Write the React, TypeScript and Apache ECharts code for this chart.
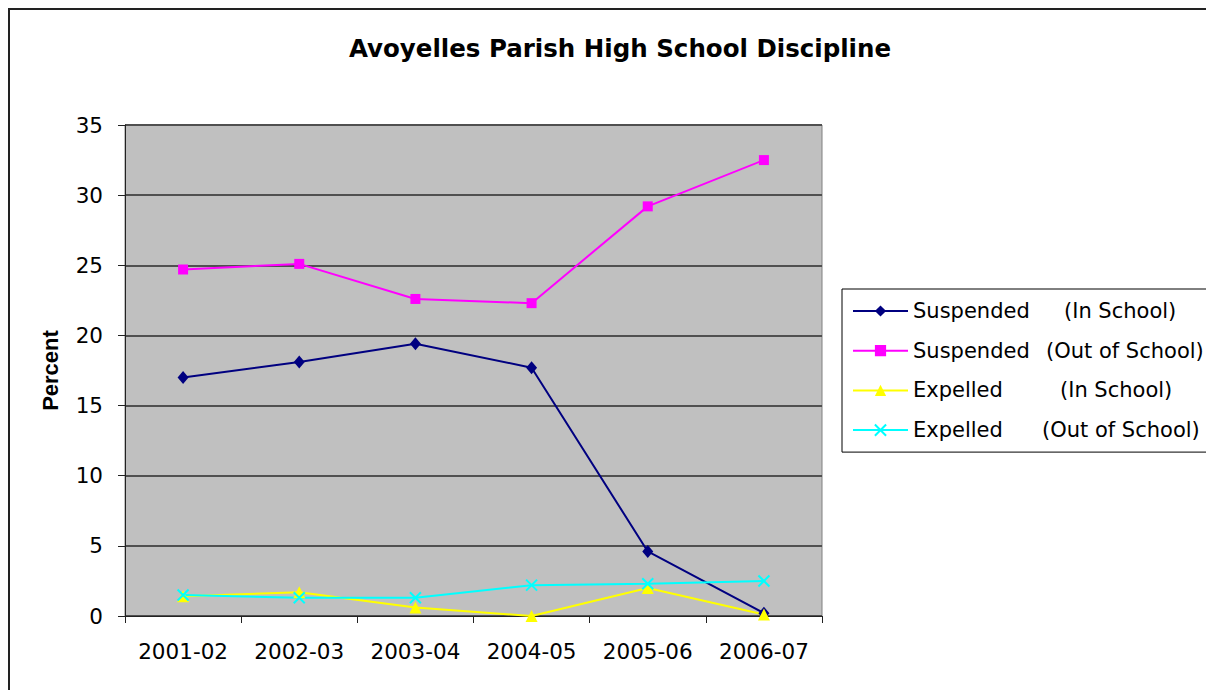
import React, { useEffect, useRef } from "react";
import * as echarts from "echarts";

const titleText = "Avoyelles Parish High School Discipline";
const yAxisName = "Percent";
const categories = ["2001-02", "2002-03", "2003-04", "2004-05", "2005-06", "2006-07"];
const yTicks = { min: 0, max: 35, interval: 5 };

const suspendedIn = [17.0, 18.1, 19.4, 17.7, 4.6, 0.2];
const suspendedOut = [24.7, 25.1, 22.6, 22.3, 29.2, 32.5];
const expelledIn = [1.4, 1.7, 0.6, 0.0, 2.0, 0.1];
const expelledOut = [1.5, 1.3, 1.3, 2.2, 2.3, 2.5];

const seriesNames = [
  ["Suspended", "(In School)"],
  ["Suspended", "(Out of School)"],
  ["Expelled", "(In School)"],
  ["Expelled", "(Out of School)"],
];

// visual styles
const legendFirstWidths = [151, 133, 147, 129];
const colors = ["#000080", "#FF00FF", "#FFFF00", "#00FFFF"];
const FONT = "DejaVu Sans";

export default function App() {
  const ref = useRef<HTMLDivElement>(null);
  useEffect(() => {
    if (!ref.current) return;
    const chart = echarts.init(ref.current, undefined, { renderer: "svg" });
    const datas = [suspendedIn, suspendedOut, expelledIn, expelledOut];
    const symbols = ["diamond", "rect", "triangle", "path://M0,0L10,10M10,0L0,10"];
    const symbolSizes: any[] = [[11, 13], 10, 12, 11];
    const fullNames = seriesNames.map((p) => p.join(" "));
    const nameToIdx: Record<string, number> = {};
    fullNames.forEach((n, i) => (nameToIdx[n] = i));
    const rich: any = {};
    legendFirstWidths.forEach((w, i) => {
      rich["a" + i] = { width: w, fontSize: 21, fontFamily: FONT, color: "#000" };
    });
    rich.b = { fontSize: 21, fontFamily: FONT, color: "#000" };

    chart.setOption({
      animation: false,
      backgroundColor: "#fff",
      title: {
        text: titleText,
        left: 605,
        top: 21,
        textAlign: "center",
        textStyle: { fontFamily: FONT, fontWeight: "bold", fontSize: 24.5, color: "#000" },
      },
      legend: {
        orient: "vertical",
        left: 832,
        top: 279,
        itemWidth: 55,
        itemHeight: 14,
        itemGap: 17.7,
        padding: [11, 10, 11, 10],
        borderColor: "#000",
        borderWidth: 1,
        backgroundColor: "#fff",
        data: fullNames,
        formatter: (name: string) => {
          const i = nameToIdx[name];
          const p = seriesNames[i];
          return `{a${i}|${p[0]}}{b|${p[1]}}`;
        },
        textStyle: { fontFamily: FONT, fontSize: 21, color: "#000", lineHeight: 22, rich },
      },
      grid: {
        left: 115,
        top: 115,
        width: 697,
        height: 491,
        show: true,
        backgroundColor: "#C0C0C0",
        borderColor: "#808080",
        borderWidth: 1,
      },
      xAxis: {
        type: "category",
        data: categories,
        boundaryGap: true,
        axisLine: { lineStyle: { color: "#222", width: 1 } },
        axisTick: { show: true, length: 7, inside: false, interval: 0, lineStyle: { color: "#222" } },
        axisLabel: { interval: 0, margin: 24, fontFamily: FONT, fontSize: 21.5, color: "#000" },
        splitLine: { show: false },
      },
      yAxis: {
        type: "value",
        min: yTicks.min,
        max: yTicks.max,
        interval: yTicks.interval,
        name: yAxisName,
        nameLocation: "middle",
        nameRotate: 90,
        nameGap: 64,
        nameTextStyle: { fontFamily: "Liberation Sans", fontWeight: "bold", fontSize: 22, color: "#000" },
        axisLine: { show: true, lineStyle: { color: "#222", width: 1 } },
        axisTick: { show: true, length: 7, inside: false, lineStyle: { color: "#222" } },
        axisLabel: { margin: 22, fontFamily: FONT, fontSize: 21.5, color: "#000" },
        splitLine: { show: true, lineStyle: { color: "#505050", width: 2 } },
      },
      series: datas.map((d, i) => ({
        name: fullNames[i],
        type: "line",
        data: d,
        symbol: symbols[i],
        symbolSize: symbolSizes[i],
        showAllSymbol: true,
        lineStyle: { color: colors[i], width: 2 },
        itemStyle: {
          color: colors[i],
          borderColor: colors[i],
          borderWidth: i === 3 ? 2 : 0,
        },
        emphasis: { disabled: true },
      })),
    });
    return () => chart.dispose();
  }, []);
  return (
    <div style={{ width: 1204, height: 680, borderLeft: "2px solid #222", borderTop: "2px solid #222" }}>
      <div ref={ref} style={{ width: 1204, height: 680 }} />
    </div>
  );
}
